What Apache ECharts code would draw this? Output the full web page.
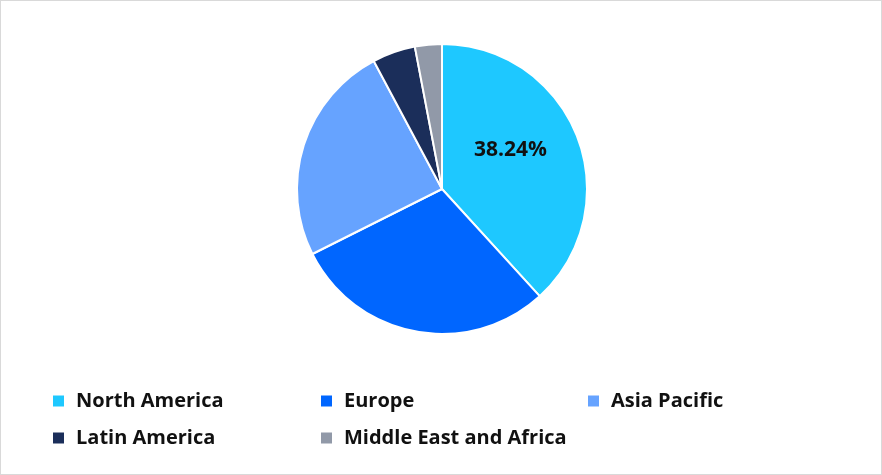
<!DOCTYPE html>
<html>
<head>
<meta charset="utf-8">
<script src="https://cdn.jsdelivr.net/npm/echarts@6/dist/echarts.min.js"></script>
<style>
  html, body { margin: 0; padding: 0; background: #fff; }
  #chart { width: 880px; height: 473px; border: 1px solid #d9d9d9; }
</style>
</head>
<body>
<div id="chart"></div>
<script>
var regions = ["North America", "Europe", "Asia Pacific", "Latin America", "Middle East and Africa"];
var shares = [38.24, 29.36, 24.6, 4.8, 3.0];
var colors = ["#1EC8FF", "#0066FF", "#66A3FF", "#1B2E5A", "#9199A8"];

var chart = echarts.init(document.getElementById("chart"));

// one legend per item so they sit in the same grid as the reference
var legendPos = [[45, 385], [313, 385], [580, 385], [45, 422], [313, 422]];
var legends = regions.map(function (name, i) {
    return {
        data: [name],
        left: legendPos[i][0],
        top: legendPos[i][1],
        icon: "rect",
        itemWidth: 13,
        itemHeight: 13,
        itemGap: 8,
        selectedMode: false,
        textStyle: { fontFamily: "Open Sans", fontWeight: "bold", fontSize: 20, color: "#111", padding: [0, 0, 0, 6] }
    };
});

chart.setOption({
    color: colors,
    legend: legends,
    series: [{
        type: "pie",
        center: [441, 188],
        radius: [0, 145],
        startAngle: 90,
        clockwise: true,
        animation: false,
        itemStyle: { borderColor: "#fff", borderWidth: 2 },
        labelLine: { show: false },
        data: regions.map(function (name, i) {
            return {
                name: name,
                value: shares[i],
                label: i === 0 ? {
                    show: true,
                    position: "inside",
                    formatter: "{c}%",
                    fontFamily: "Open Sans",
                    fontWeight: "bold",
                    fontSize: 21,
                    color: "#111",
                    offset: [-2, -12]
                } : { show: false }
            };
        })
    }]
});
window.addEventListener("resize", function () { chart.resize(); });
</script>
</body>
</html>
